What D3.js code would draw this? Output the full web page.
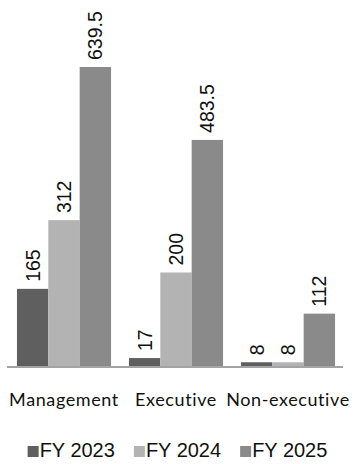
<!DOCTYPE html>
<meta charset="utf-8">
<html>
    <head>
        <title>Board by year</title>
        <style>
            body { margin: 0; background: #fff; }
        </style>
    </head>
    <body>
        <div id="viz"></div>

        <script src="https://cdnjs.cloudflare.com/ajax/libs/d3/7.8.5/d3.min.js"></script>
        <script>
            var categories = ["Management", "Executive", "Non-executive"];
            var years = ["FY 2023", "FY 2024", "FY 2025"];
            var fy2023 = [165, 17, 8];
            var fy2024 = [312, 200, 8];
            var fy2025 = [639.5, 483.5, 112];
            var labels = [["165", "312", "639.5"], ["17", "200", "483.5"], ["8", "8", "112"]];
            var colors = ["#5f5f5f", "#b3b3b3", "#8a8a8a"];

            var width = 355, height = 464;
            var baseY = 366;

            var svg = d3.select("#viz")
                .append("svg")
                .attr("width", width)
                .attr("height", height);

            var x0 = d3.scaleBand()
                .domain(categories)
                .range([8, 344])
                .paddingInner(0.16)
                .paddingOuter(0.08);

            var x1 = d3.scaleBand()
                .domain(years)
                .range([0, x0.bandwidth()]);

            var y = d3.scaleLinear()
                .domain([0, 639.5])
                .range([baseY, 67]);

            var color = d3.scaleOrdinal().domain(years).range(colors);

            var rows = categories.map(function (c, i) {
                return {
                    cat: c,
                    vals: [fy2023[i], fy2024[i], fy2025[i]].map(function (v, j) {
                        return { year: years[j], value: v, label: labels[i][j] };
                    })
                };
            });

            var groups = svg.selectAll("g.grp")
                .data(rows).enter()
                .append("g")
                .attr("class", "grp")
                .attr("transform", function (d) { return "translate(" + x0(d.cat) + ",0)"; });

            groups.selectAll("rect")
                .data(function (d) { return d.vals; }).enter()
                .append("rect")
                .attr("x", function (d) { return x1(d.year); })
                .attr("y", function (d) { return y(d.value); })
                .attr("width", x1.bandwidth())
                .attr("height", function (d) { return baseY - y(d.value); })
                .attr("fill", function (d) { return color(d.year); });

            groups.selectAll("text")
                .data(function (d) { return d.vals; }).enter()
                .append("text")
                .attr("transform", function (d) {
                    var cx = x1(d.year) + x1.bandwidth() / 2 + 7;
                    return "translate(" + cx + "," + (y(d.value) - 7) + ") rotate(-90)";
                })
                .attr("font-family", "'Liberation Sans', Arial, sans-serif")
                .attr("font-size", "19.5px")
                .attr("fill", "#111")
                .text(function (d) { return d.label; });

            // baseline
            svg.append("line")
                .attr("x1", 7).attr("x2", 343)
                .attr("y1", baseY + 1).attr("y2", baseY + 1)
                .attr("stroke", "#a3a3a3")
                .attr("stroke-width", 2);

            // category labels
            svg.selectAll("text.cat")
                .data(categories).enter()
                .append("text")
                .attr("class", "cat")
                .attr("x", function (d) { return x0(d) + x0.bandwidth() / 2; })
                .attr("y", 406)
                .attr("text-anchor", "middle")
                .attr("font-family", "Lato, 'Noto Sans', sans-serif")
                .attr("font-size", "18px")
                .attr("letter-spacing", "0.6px")
                .attr("fill", "#111")
                .text(function (d) { return d; });

            // legend
            var legend = svg.append("g");
            var items = legend.selectAll("g")
                .data(years).enter()
                .append("g");
            items.append("rect")
                .attr("width", 11).attr("height", 11)
                .attr("y", 446)
                .attr("fill", function (d) { return color(d); });
            items.append("text")
                .attr("x", 12)
                .attr("y", 457)
                .attr("font-family", "'Liberation Sans', Arial, sans-serif")
                .attr("font-size", "20px")
                .attr("fill", "#111")
                .text(function (d) { return d; });

            var xpos = 0, gap = 19, widths = [];
            items.each(function () { widths.push(this.getBBox().width); });
            var total = d3.sum(widths) + gap * (widths.length - 1);
            xpos = (width - total) / 2;
            items.attr("transform", function (d, i) {
                var t = "translate(" + xpos + ",0)";
                xpos += widths[i] + gap;
                return t;
            });
        </script>
    </body>
</html>
